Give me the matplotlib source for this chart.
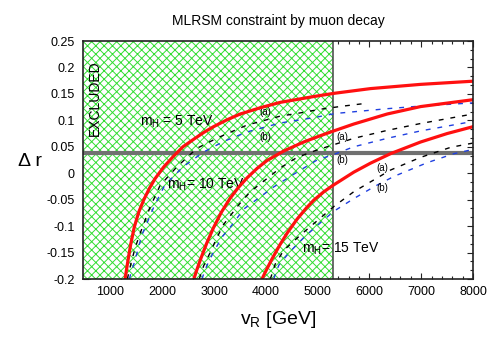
import matplotlib
matplotlib.use("Agg")
import matplotlib.pyplot as plt
from matplotlib.ticker import MultipleLocator, AutoMinorLocator

plt.rcParams['font.family'] = ['Liberation Sans', 'DejaVu Sans']
plt.rcParams['mathtext.default'] = 'regular'
plt.rcParams['hatch.linewidth'] = 0.7

# m_H = 5 TeV
v_red_5 = [1282, 1330, 1390, 1460, 1545, 1640, 1750, 1863, 2030, 2217, 2400, 2604, 2800, 2990,
           3250, 3507, 3900, 4280, 4925, 5312, 6021, 6988, 8000]
dr_red_5 = [-0.2, -0.17, -0.135, -0.102, -0.074, -0.051, -0.029, -0.010, 0.012, 0.032, 0.050, 0.064, 0.077, 0.088,
            0.101, 0.112, 0.124, 0.134, 0.145, 0.151, 0.160, 0.168, 0.174]
v_a_5 = [1327, 1360, 1411, 1480, 1572, 1766, 1959, 2282, 2669, 3050, 3281, 3636, 4280, 4603, 5054, 5500, 5925]
dr_a_5 = [-0.2, -0.185, -0.165, -0.14, -0.114, -0.064, -0.023, 0.012, 0.047, 0.066, 0.076, 0.091, 0.108, 0.113, 0.121, 0.127, 0.132]
v_b_5 = [1366, 1405, 1476, 1540, 1620, 1836, 2046, 2400, 2797, 3184, 3636, 4280, 4925, 5344, 6344, 6988, 8000]
dr_b_5 = [-0.2, -0.185, -0.165, -0.14, -0.114, -0.064, -0.023, 0.012, 0.040, 0.060, 0.078, 0.095, 0.105, 0.113, 0.122, 0.127, 0.133]

# m_H = 10 TeV
v_red_10 = [2610, 2670, 2750, 2860, 2990, 3140, 3313, 3470, 3636, 3830, 4023, 4345, 4731, 5054, 5312, 5698, 6344, 6988, 8000]
dr_red_10 = [-0.2, -0.182, -0.16, -0.132, -0.103, -0.074, -0.047, -0.027, -0.009, 0.009, 0.024, 0.042, 0.059, 0.071, 0.080,
             0.093, 0.112, 0.126, 0.139]
v_a_10 = [2714, 2800, 2926, 3050, 3184, 3474, 3700, 4023, 4280, 4603, 4990, 5250, 5698, 6344, 6988, 8000]
dr_a_10 = [-0.2, -0.175, -0.150, -0.123, -0.097, -0.060, -0.035, -0.010, 0.010, 0.030, 0.044, 0.052, 0.066, 0.081, 0.094, 0.112]
v_b_10 = [2765, 2860, 2990, 3160, 3346, 3571, 4151, 4603, 4990, 5300, 5698, 6344, 6988, 8000]
dr_b_10 = [-0.2, -0.175, -0.149, -0.12, -0.098, -0.068, -0.026, 0.002, 0.025, 0.035, 0.050, 0.066, 0.080, 0.098]

# m_H = 15 TeV
v_red_15 = [3926, 4010, 4120, 4268, 4420, 4602, 4780, 4925, 5120, 5312, 5698, 6021, 6408, 6988, 7500, 8000]
dr_red_15 = [-0.2, -0.183, -0.162, -0.136, -0.112, -0.087, -0.066, -0.051, -0.035, -0.022, 0.002, 0.019, 0.037, 0.059, 0.075, 0.088]
v_a_15 = [4087, 4180, 4344, 4667, 4990, 5312, 5698, 6408, 6988, 7570, 8000]
dr_a_15 = [-0.2, -0.172, -0.146, -0.117, -0.090, -0.063, -0.035, 0.006, 0.030, 0.049, 0.057]
v_b_15 = [4151, 4250, 4450, 4750, 5050, 5312, 5698, 6100, 6473, 7118, 7633, 8000]
dr_b_15 = [-0.2, -0.174, -0.150, -0.120, -0.094, -0.072, -0.048, -0.025, -0.006, 0.020, 0.037, 0.045]

v_excluded = 5300
dr_bound = 0.038

fig = plt.figure(figsize=(4.98, 3.48), dpi=100)
ax = fig.add_axes([83/498, 1-279/348, 390/498, 238/348])
ax.set_axisbelow(True)

ax.axvspan(0, v_excluded, facecolor='white', edgecolor='#33dd33', hatch='xxxx', lw=0, zorder=1)
ax.axvline(v_excluded, color='#444444', lw=1.1, zorder=2)
ax.axhline(dr_bound, color='#707070', lw=3, zorder=2)

dash = (3.5, 5)
for v_r, dr_r, v_a, dr_a, v_b, dr_b in [
        (v_red_5, dr_red_5, v_a_5, dr_a_5, v_b_5, dr_b_5),
        (v_red_10, dr_red_10, v_a_10, dr_a_10, v_b_10, dr_b_10),
        (v_red_15, dr_red_15, v_a_15, dr_a_15, v_b_15, dr_b_15)]:
    ax.plot(v_b, dr_b, color='#2040e0', lw=1.0, dashes=dash, zorder=3)
    ax.plot(v_a, dr_a, color='black', lw=1.0, dashes=dash, zorder=3)
    ax.plot(v_r, dr_r, color='#ff1010', lw=2.3, zorder=4)

# labels
ax.text(702, 0.142, 'EXCLUDED', rotation=90, ha='center', va='center', fontsize=10)
ax.text(2288, 0.097, 'm$_{H}$ = 5 TeV', ha='center', va='center', fontsize=10)
ax.text(2849, -0.021, 'm$_{H}$= 10 TeV', ha='center', va='center', fontsize=10)
ax.text(5441, -0.142, 'm$_{H}$= 15 TeV', ha='center', va='center', fontsize=10)
for x, ya, yb in [(3990, 0.116, 0.068), (5480, 0.068, 0.025), (6253, 0.0095, -0.028)]:
    ax.text(x, ya, '(a)', ha='center', va='center', fontsize=7)
    ax.text(x, yb, '(b)', ha='center', va='center', fontsize=7)

ax.set_xlim(470, 8000)
ax.set_ylim(-0.2, 0.25)
ax.xaxis.set_major_locator(MultipleLocator(1000))
ax.xaxis.set_minor_locator(AutoMinorLocator(5))
ax.yaxis.set_major_locator(MultipleLocator(0.05))
ax.yaxis.set_minor_locator(AutoMinorLocator(3))
ax.yaxis.set_major_formatter(plt.FuncFormatter(lambda y, p: ('%g' % round(y, 3))))
ax.tick_params(which='both', direction='in', top=True, right=True, labelsize=9, color='#222222')
ax.tick_params(which='major', length=4, width=0.8)
ax.tick_params(which='minor', length=2, width=0.8)
ax.tick_params(axis='y', pad=6)
ax.tick_params(axis='x', pad=5)
for s in ax.spines.values():
    s.set_linewidth(1.2)
    s.set_color('#222222')
    s.set_zorder(5)

ax.set_title('MLRSM constraint by muon decay', fontsize=10, pad=11.5)
fig.text(278/498, 1-320/348, 'v$_{R}$ [GeV]', ha='center', va='center', fontsize=14)
fig.text(30/498, 1-161/348, 'Δ r', ha='center', va='center', fontsize=14)

fig.savefig('out.png', dpi=100)
